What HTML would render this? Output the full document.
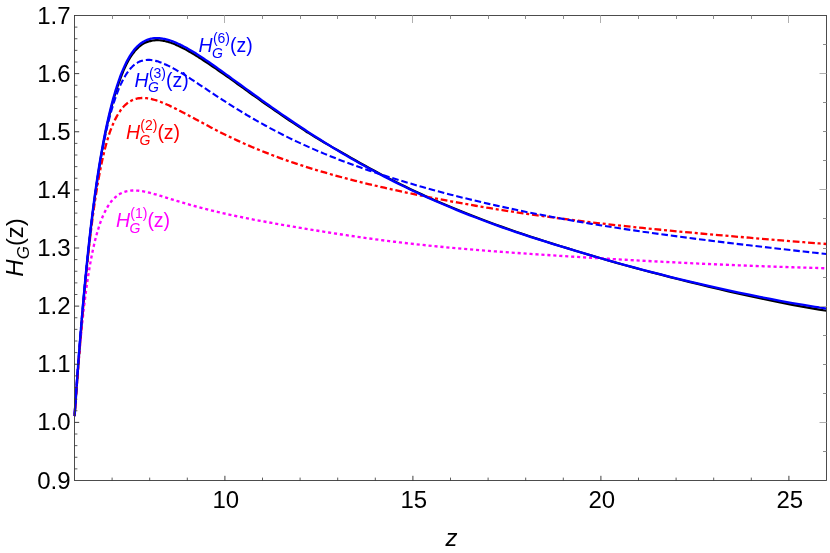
<!DOCTYPE html>
<html><head><meta charset="utf-8">
<style>
html,body{margin:0;padding:0;background:#fff;}
svg{display:block;will-change:transform;}
text{font-family:"Liberation Sans",sans-serif;}
.tl{font-size:24.0px;fill:#000;}
.cl{font-size:19.5px;}
.cs{font-size:14.0px;}
.M{stroke:#2a2a2a;stroke-width:0.9;}
.m{stroke:#333;stroke-width:0.8;}
.TM{stroke:#b0b0b0;stroke-width:1;}
.tm{stroke:#8c8c8c;stroke-width:1;}
.c{fill:none;stroke-linejoin:round;}
</style></head><body>
<svg width="830" height="553" viewBox="0 0 830 553">
<rect width="830" height="553" fill="#fff"/>
<clipPath id="cp"><rect x="70.5" y="15.5" width="756.0" height="465.0"/></clipPath>
<g clip-path="url(#cp)">
<path class="c" d="M74.70 416.10C74.78 415.00 75.00 411.70 75.15 409.50C75.31 407.29 75.46 405.08 75.61 402.87C75.77 400.65 75.92 398.44 76.08 396.21C76.24 393.99 76.39 391.77 76.55 389.54C76.71 387.31 76.87 385.08 77.03 382.84C77.19 380.61 77.36 378.37 77.52 376.13C77.68 373.90 77.85 371.66 78.01 369.42C78.18 367.18 78.35 364.94 78.52 362.70C78.68 360.46 78.85 358.21 79.03 355.97C79.20 353.73 79.37 351.49 79.54 349.25C79.72 347.01 79.89 344.78 80.07 342.54C80.24 340.31 80.42 338.07 80.60 335.84C80.78 333.61 80.96 331.38 81.14 329.15C81.32 326.93 81.51 324.70 81.69 322.49C81.87 320.27 82.06 318.05 82.25 315.84C82.43 313.63 82.62 311.43 82.81 309.23C83.00 307.03 83.19 304.83 83.39 302.64C83.58 300.45 83.77 298.27 83.97 296.09C84.16 293.91 84.36 291.74 84.56 289.58C84.76 287.42 84.96 285.26 85.16 283.12C85.36 280.97 85.56 278.83 85.77 276.70C85.97 274.57 86.18 272.44 86.39 270.33C86.59 268.22 86.80 266.11 87.01 264.02C87.22 261.93 87.44 259.84 87.65 257.77C87.86 255.70 88.08 253.63 88.30 251.58C88.51 249.53 88.73 247.49 88.95 245.46C89.17 243.43 89.40 241.41 89.62 239.41C89.84 237.40 90.07 235.40 90.30 233.42C90.52 231.44 90.75 229.46 90.98 227.50C91.21 225.54 91.44 223.59 91.68 221.65C91.91 219.72 92.15 217.79 92.38 215.88C92.62 213.96 92.86 212.06 93.10 210.17C93.34 208.28 93.59 206.40 93.83 204.54C94.07 202.67 94.32 200.82 94.57 198.98C94.82 197.13 95.07 195.31 95.32 193.49C95.57 191.67 95.82 189.87 96.08 188.08C96.34 186.29 96.59 184.51 96.85 182.74C97.11 180.98 97.37 179.22 97.64 177.48C97.90 175.74 98.17 174.02 98.43 172.30C98.70 170.59 98.97 168.89 99.24 167.20C99.51 165.51 99.79 163.84 100.06 162.18C100.34 160.52 100.61 158.87 100.89 157.23C101.17 155.60 101.45 153.98 101.74 152.37C102.02 150.77 102.31 149.17 102.60 147.60C102.88 146.02 103.17 144.45 103.47 142.90C103.76 141.35 104.05 139.81 104.35 138.29C104.65 136.77 104.94 135.25 105.25 133.76C105.55 132.27 105.87 130.80 106.18 129.35C106.49 127.89 106.81 126.45 107.13 125.02C107.45 123.60 107.77 122.18 108.09 120.79C108.42 119.39 108.74 118.01 109.07 116.64C109.40 115.27 109.73 113.92 110.06 112.59C110.40 111.25 110.73 109.93 111.07 108.62C111.41 107.32 111.75 106.03 112.09 104.76C112.44 103.49 112.78 102.23 113.13 100.99C113.48 99.75 113.83 98.53 114.18 97.32C114.54 96.11 114.89 94.92 115.25 93.75C115.61 92.58 115.97 91.42 116.34 90.28C116.70 89.14 117.07 88.02 117.44 86.92C117.81 85.81 118.19 84.72 118.56 83.66C118.93 82.59 119.29 81.55 119.66 80.52C120.02 79.50 120.39 78.49 120.77 77.50C121.14 76.52 121.52 75.55 121.89 74.60C122.27 73.65 122.65 72.71 123.04 71.80C123.42 70.89 123.81 69.99 124.20 69.12C124.59 68.24 124.98 67.39 125.38 66.55C125.77 65.72 126.17 64.90 126.58 64.10C126.98 63.31 127.38 62.53 127.79 61.77C128.20 61.02 128.61 60.28 129.02 59.56C129.44 58.85 129.85 58.15 130.27 57.48C130.69 56.80 131.12 56.15 131.54 55.51C131.97 54.88 132.40 54.27 132.83 53.68C133.27 53.09 133.70 52.52 134.14 51.97C134.58 51.42 135.03 50.89 135.47 50.39C135.91 49.88 136.35 49.40 136.79 48.93C137.23 48.47 137.68 48.03 138.13 47.60C138.58 47.18 139.03 46.78 139.49 46.40C139.95 46.02 140.41 45.65 140.87 45.31C141.33 44.97 141.80 44.65 142.27 44.34C142.74 44.04 143.21 43.75 143.69 43.49C144.17 43.22 144.65 42.98 145.13 42.75C145.62 42.52 146.11 42.31 146.60 42.12C147.09 41.92 147.58 41.75 148.08 41.59C148.58 41.44 149.08 41.31 149.59 41.18C150.10 41.05 150.62 40.92 151.15 40.81C151.67 40.70 152.20 40.60 152.74 40.51C153.27 40.43 153.81 40.36 154.35 40.31C154.89 40.26 155.44 40.22 155.99 40.20C156.54 40.18 157.09 40.18 157.65 40.19C158.21 40.20 158.77 40.23 159.34 40.27C159.91 40.31 160.48 40.36 161.05 40.43C161.63 40.50 162.21 40.58 162.79 40.68C163.37 40.78 163.96 40.89 164.56 41.02C165.15 41.14 165.75 41.28 166.35 41.43C166.95 41.58 167.55 41.75 168.17 41.92C168.78 42.10 169.39 42.29 170.01 42.49C170.63 42.70 171.25 42.91 171.88 43.14C172.51 43.37 173.15 43.60 173.78 43.85C174.42 44.11 175.07 44.37 175.71 44.64C176.36 44.91 177.02 45.20 177.67 45.50C178.33 45.79 178.99 46.10 179.66 46.42C180.33 46.73 181.00 47.06 181.68 47.40C182.36 47.74 183.04 48.09 183.73 48.45C184.41 48.81 185.11 49.18 185.81 49.57C186.50 49.95 187.21 50.34 187.91 50.74C188.62 51.14 189.34 51.55 190.06 51.97C190.78 52.39 191.50 52.82 192.23 53.26C192.96 53.70 193.70 54.15 194.44 54.61C195.18 55.07 195.92 55.53 196.68 56.01C197.43 56.48 198.18 56.97 198.95 57.46C199.71 57.95 200.48 58.45 201.26 58.95C202.04 59.45 202.82 59.95 203.61 60.46C204.40 60.97 205.20 61.49 206.00 62.02C206.80 62.55 207.60 63.08 208.42 63.63C209.23 64.17 210.05 64.72 210.88 65.28C211.70 65.84 212.53 66.40 213.37 66.98C214.21 67.55 215.05 68.13 215.90 68.71C216.75 69.30 217.61 69.89 218.47 70.49C219.34 71.09 220.21 71.70 221.08 72.31C221.96 72.92 222.84 73.54 223.73 74.16C224.62 74.78 225.52 75.41 226.42 76.05C227.32 76.68 228.23 77.32 229.15 77.97C230.06 78.62 230.98 79.28 231.91 79.95C232.84 80.62 233.78 81.29 234.72 81.97C235.67 82.65 236.62 83.34 237.58 84.03C238.54 84.72 239.50 85.41 240.47 86.11C241.44 86.81 242.42 87.52 243.41 88.23C244.40 88.94 245.39 89.65 246.39 90.37C247.40 91.09 248.40 91.81 249.42 92.54C250.44 93.27 251.46 94.00 252.49 94.74C253.53 95.48 254.56 96.22 255.61 96.97C256.66 97.71 257.71 98.46 258.78 99.22C259.84 99.97 260.91 100.73 261.99 101.49C263.07 102.25 264.16 103.02 265.25 103.79C266.35 104.56 267.45 105.33 268.56 106.11C269.67 106.89 270.79 107.67 271.92 108.46C273.05 109.24 274.19 110.03 275.33 110.82C276.48 111.61 277.63 112.41 278.79 113.21C279.95 114.01 281.12 114.81 282.30 115.61C283.48 116.42 284.67 117.23 285.87 118.04C287.07 118.85 288.27 119.66 289.49 120.48C290.70 121.30 291.93 122.12 293.16 122.94C294.40 123.76 295.64 124.59 296.89 125.42C298.14 126.24 299.40 127.07 300.67 127.91C301.95 128.74 303.23 129.57 304.52 130.41C305.81 131.25 307.10 132.10 308.41 132.93C309.72 133.76 311.04 134.58 312.37 135.39C313.70 136.21 315.04 137.01 316.39 137.82C317.74 138.63 319.09 139.44 320.46 140.25C321.83 141.06 323.21 141.87 324.60 142.69C325.99 143.50 327.39 144.32 328.80 145.14C330.21 145.95 331.63 146.77 333.06 147.59C334.49 148.41 335.94 149.23 337.39 150.05C338.84 150.87 340.30 151.68 341.78 152.51C343.25 153.34 344.74 154.16 346.24 155.02C347.73 155.88 349.24 156.77 350.76 157.65C352.28 158.53 353.81 159.41 355.35 160.29C356.89 161.17 358.45 162.05 360.01 162.93C361.58 163.81 363.15 164.69 364.74 165.57C366.33 166.44 367.93 167.32 369.54 168.20C371.16 169.08 372.78 169.96 374.42 170.84C376.05 171.72 377.70 172.60 379.36 173.48C381.02 174.35 382.70 175.23 384.38 176.11C386.07 176.98 387.77 177.86 389.48 178.73C391.19 179.61 392.91 180.48 394.65 181.35C396.39 182.23 398.14 183.10 399.90 183.97C401.66 184.84 403.44 185.71 405.23 186.58C407.02 187.44 408.82 188.31 410.64 189.17C412.45 190.04 414.28 190.90 416.12 191.76C417.97 192.62 419.82 193.48 421.70 194.34C423.57 195.20 425.45 196.05 427.35 196.91C429.25 197.76 431.16 198.61 433.09 199.46C435.02 200.31 436.96 201.16 438.92 202.01C440.87 202.85 442.84 203.70 444.83 204.54C446.81 205.38 448.81 206.22 450.83 207.06C452.85 207.90 454.88 208.74 456.92 209.57C458.97 210.41 461.03 211.24 463.10 212.07C465.18 212.91 467.27 213.74 469.38 214.57C471.49 215.40 473.61 216.22 475.75 217.05C477.89 217.88 480.04 218.70 482.21 219.53C484.38 220.35 486.57 221.17 488.78 221.99C490.98 222.81 493.20 223.63 495.44 224.45C497.67 225.27 499.93 226.08 502.20 226.89C504.47 227.70 506.75 228.50 509.06 229.30C511.36 230.10 513.68 230.90 516.02 231.70C518.36 232.50 520.72 233.30 523.09 234.10C525.46 234.89 527.85 235.69 530.26 236.49C532.67 237.28 535.10 238.07 537.55 238.87C539.99 239.66 542.46 240.45 544.94 241.24C547.42 242.04 549.92 242.83 552.44 243.62C554.96 244.41 557.50 245.19 560.05 245.98C562.61 246.77 565.19 247.55 567.78 248.35C570.38 249.14 572.99 249.96 575.63 250.77C578.26 251.58 580.91 252.39 583.59 253.20C586.26 254.01 588.96 254.81 591.67 255.61C594.38 256.42 597.12 257.22 599.87 258.02C602.63 258.83 605.40 259.63 608.20 260.43C610.99 261.23 613.81 262.03 616.65 262.83C619.49 263.63 622.34 264.43 625.22 265.22C628.10 266.02 631.01 266.81 633.93 267.60C636.85 268.39 639.80 269.18 642.77 269.97C645.73 270.76 648.72 271.54 651.73 272.33C654.75 273.11 657.78 273.88 660.84 274.67C663.89 275.47 666.97 276.28 670.08 277.08C673.18 277.88 676.30 278.68 679.45 279.47C682.60 280.27 685.77 281.06 688.97 281.84C692.17 282.63 695.39 283.40 698.63 284.19C701.88 284.98 705.14 285.80 708.44 286.59C711.73 287.39 715.05 288.19 718.39 288.98C721.73 289.77 725.10 290.56 728.49 291.34C731.88 292.12 735.30 292.90 738.74 293.68C742.19 294.45 745.66 295.22 749.15 295.98C752.65 296.74 756.17 297.50 759.71 298.25C763.26 299.00 766.83 299.75 770.44 300.49C774.04 301.23 777.66 301.97 781.32 302.69C784.97 303.41 788.65 304.14 792.36 304.83C796.07 305.53 799.81 306.19 803.57 306.86C807.34 307.53 811.13 308.19 814.95 308.84C818.77 309.50 824.58 310.46 826.50 310.78" stroke="#000" stroke-width="2.2"/>
<path class="c" d="M74.50 416.10C74.58 414.99 74.80 411.67 74.95 409.47C75.10 407.27 75.25 405.08 75.41 402.90C75.56 400.73 75.72 398.56 75.87 396.41C76.03 394.26 76.19 392.12 76.34 389.99C76.50 387.87 76.66 385.75 76.82 383.65C76.98 381.55 77.15 379.46 77.31 377.39C77.47 375.32 77.64 373.26 77.80 371.21C77.97 369.16 78.13 367.13 78.30 365.11C78.47 363.10 78.64 361.09 78.81 359.10C78.98 357.12 79.15 355.14 79.33 353.18C79.50 351.22 79.67 349.28 79.85 347.35C80.02 345.43 80.20 343.51 80.38 341.62C80.56 339.72 80.74 337.84 80.92 335.98C81.10 334.12 81.28 332.27 81.47 330.44C81.65 328.61 81.83 326.80 82.02 325.00C82.21 323.21 82.39 321.43 82.58 319.67C82.77 317.91 82.96 316.16 83.16 314.44C83.35 312.71 83.54 311.01 83.74 309.32C83.93 307.63 84.13 305.96 84.33 304.31C84.52 302.66 84.72 301.03 84.92 299.42C85.12 297.81 85.33 296.22 85.53 294.64C85.74 293.07 85.94 291.52 86.15 289.98C86.35 288.45 86.56 286.94 86.77 285.45C86.98 283.96 87.19 282.49 87.41 281.04C87.62 279.59 87.84 278.16 88.05 276.75C88.27 275.34 88.49 273.96 88.71 272.59C88.93 271.22 89.15 269.88 89.37 268.55C89.59 267.23 89.82 265.93 90.04 264.64C90.27 263.36 90.50 262.09 90.73 260.85C90.96 259.61 91.19 258.38 91.42 257.18C91.65 255.98 91.89 254.79 92.13 253.63C92.36 252.46 92.60 251.32 92.84 250.19C93.08 249.07 93.32 247.96 93.57 246.87C93.81 245.79 94.06 244.72 94.30 243.67C94.55 242.62 94.80 241.59 95.05 240.58C95.30 239.56 95.55 238.57 95.81 237.59C96.06 236.62 96.32 235.66 96.58 234.72C96.84 233.78 97.10 232.86 97.36 231.96C97.62 231.05 97.89 230.16 98.16 229.30C98.42 228.43 98.69 227.58 98.96 226.74C99.23 225.91 99.50 225.09 99.78 224.29C100.05 223.49 100.33 222.71 100.61 221.94C100.89 221.17 101.17 220.43 101.45 219.69C101.73 218.96 102.02 218.24 102.30 217.54C102.59 216.84 102.88 216.16 103.17 215.49C103.46 214.82 103.76 214.17 104.05 213.53C104.35 212.89 104.65 212.27 104.95 211.66C105.25 211.06 105.55 210.47 105.85 209.89C106.16 209.32 106.47 208.76 106.77 208.21C107.08 207.67 107.40 207.14 107.71 206.62C108.02 206.10 108.34 205.60 108.66 205.12C108.98 204.63 109.30 204.16 109.62 203.70C109.94 203.24 110.27 202.79 110.60 202.36C110.93 201.93 111.26 201.51 111.59 201.11C111.92 200.70 112.26 200.31 112.60 199.94C112.93 199.56 113.28 199.19 113.62 198.84C113.96 198.49 114.31 198.15 114.66 197.82C115.00 197.50 115.35 197.18 115.71 196.88C116.06 196.58 116.42 196.29 116.78 196.01C117.14 195.73 117.50 195.47 117.86 195.21C118.23 194.96 118.59 194.72 118.96 194.48C119.33 194.25 119.70 194.03 120.08 193.82C120.45 193.61 120.83 193.41 121.21 193.23C121.59 193.04 121.98 192.86 122.36 192.69C122.75 192.53 123.14 192.37 123.53 192.22C123.93 192.08 124.32 191.94 124.72 191.82C125.12 191.69 125.52 191.57 125.92 191.47C126.33 191.36 126.73 191.26 127.14 191.17C127.55 191.08 127.97 191.00 128.38 190.93C128.80 190.86 129.22 190.80 129.64 190.75C130.06 190.69 130.49 190.65 130.92 190.61C131.35 190.58 131.78 190.55 132.22 190.53C132.65 190.51 133.09 190.50 133.53 190.49C133.97 190.49 134.42 190.49 134.87 190.50C135.32 190.51 135.77 190.53 136.22 190.55C136.68 190.58 137.14 190.61 137.60 190.65C138.06 190.69 138.53 190.73 139.00 190.79C139.46 190.84 139.94 190.90 140.41 190.96C140.89 191.03 141.37 191.10 141.85 191.17C142.34 191.25 142.82 191.33 143.31 191.42C143.80 191.51 144.30 191.60 144.79 191.70C145.29 191.80 145.79 191.91 146.30 192.02C146.80 192.13 147.31 192.24 147.83 192.36C148.34 192.48 148.86 192.61 149.38 192.73C149.90 192.86 150.42 193.00 150.95 193.13C151.48 193.27 152.01 193.41 152.55 193.56C153.08 193.70 153.62 193.85 154.17 194.01C154.71 194.16 155.26 194.32 155.81 194.47C156.36 194.63 156.92 194.80 157.48 194.96C158.04 195.13 158.61 195.30 159.18 195.47C159.74 195.64 160.32 195.82 160.90 195.99C161.47 196.17 162.06 196.35 162.64 196.53C163.23 196.71 163.82 196.90 164.41 197.08C165.01 197.27 165.61 197.46 166.21 197.64C166.82 197.83 167.42 198.02 168.04 198.22C168.65 198.41 169.27 198.60 169.89 198.79C170.51 198.99 171.14 199.18 171.77 199.38C172.40 199.57 173.04 199.77 173.68 199.97C174.32 200.16 174.97 200.36 175.62 200.56C176.27 200.76 176.92 200.95 177.58 201.15C178.24 201.35 178.91 201.55 179.58 201.75C180.25 201.95 180.92 202.15 181.60 202.35C182.29 202.55 182.97 202.75 183.66 202.95C184.35 203.16 185.05 203.36 185.75 203.56C186.45 203.76 187.16 203.96 187.87 204.17C188.58 204.37 189.29 204.57 190.02 204.77C190.74 204.98 191.47 205.18 192.20 205.38C192.93 205.59 193.67 205.79 194.41 206.00C195.16 206.20 195.91 206.40 196.66 206.61C197.42 206.81 198.18 207.02 198.94 207.22C199.71 207.43 200.48 207.63 201.26 207.84C202.04 208.04 202.82 208.24 203.61 208.45C204.40 208.65 205.20 208.86 206.00 209.06C206.80 209.27 207.60 209.47 208.42 209.68C209.23 209.88 210.05 210.09 210.88 210.29C211.70 210.50 212.53 210.70 213.37 210.90C214.21 211.11 215.05 211.31 215.90 211.52C216.75 211.72 217.61 211.93 218.47 212.13C219.34 212.33 220.21 212.54 221.08 212.74C221.96 212.94 222.84 213.14 223.73 213.35C224.62 213.55 225.52 213.75 226.42 213.95C227.32 214.16 228.23 214.36 229.15 214.56C230.06 214.76 230.98 214.96 231.91 215.16C232.84 215.36 233.78 215.56 234.72 215.76C235.67 215.96 236.62 216.16 237.58 216.36C238.54 216.56 239.50 216.76 240.47 216.96C241.44 217.16 242.42 217.36 243.41 217.56C244.40 217.76 245.39 217.96 246.39 218.16C247.40 218.36 248.40 218.56 249.42 218.76C250.44 218.95 251.46 219.15 252.49 219.35C253.53 219.55 254.56 219.75 255.61 219.95C256.66 220.15 257.71 220.35 258.78 220.55C259.84 220.75 260.91 220.95 261.99 221.15C263.07 221.35 264.16 221.55 265.25 221.75C266.35 221.95 267.45 222.16 268.56 222.36C269.67 222.56 270.79 222.76 271.92 222.96C273.05 223.16 274.19 223.37 275.33 223.57C276.48 223.77 277.63 223.98 278.79 224.18C279.95 224.39 281.12 224.59 282.30 224.80C283.48 225.00 284.67 225.21 285.87 225.41C287.07 225.62 288.27 225.83 289.49 226.03C290.70 226.24 291.93 226.45 293.16 226.66C294.40 226.87 295.64 227.08 296.89 227.29C298.14 227.50 299.40 227.71 300.67 227.92C301.95 228.13 303.23 228.35 304.52 228.56C305.81 228.78 307.10 228.99 308.41 229.21C309.72 229.42 311.04 229.64 312.37 229.86C313.70 230.07 315.04 230.29 316.39 230.51C317.74 230.73 319.09 230.95 320.46 231.17C321.83 231.39 323.21 231.61 324.60 231.83C325.99 232.05 327.39 232.28 328.80 232.50C330.21 232.72 331.63 232.94 333.06 233.17C334.49 233.39 335.94 233.61 337.39 233.84C338.84 234.06 340.30 234.28 341.78 234.51C343.25 234.73 344.74 234.95 346.24 235.18C347.73 235.40 349.24 235.63 350.76 235.85C352.28 236.07 353.81 236.30 355.35 236.52C356.89 236.74 358.45 236.97 360.01 237.19C361.58 237.41 363.15 237.63 364.74 237.85C366.33 238.08 367.93 238.30 369.54 238.52C371.16 238.74 372.78 238.96 374.42 239.18C376.05 239.40 377.70 239.62 379.36 239.84C381.02 240.05 382.70 240.27 384.38 240.49C386.07 240.70 387.77 240.92 389.48 241.13C391.19 241.35 392.91 241.56 394.65 241.77C396.39 241.99 398.14 242.20 399.90 242.41C401.66 242.62 403.44 242.83 405.23 243.03C407.02 243.24 408.82 243.45 410.64 243.65C412.45 243.86 414.28 244.06 416.12 244.26C417.97 244.46 419.82 244.66 421.70 244.86C423.57 245.06 425.45 245.26 427.35 245.45C429.25 245.65 431.16 245.84 433.09 246.04C435.02 246.23 436.96 246.42 438.92 246.61C440.87 246.80 442.84 246.98 444.83 247.17C446.81 247.36 448.81 247.54 450.83 247.73C452.85 247.91 454.88 248.09 456.92 248.27C458.97 248.45 461.03 248.63 463.10 248.81C465.18 248.99 467.27 249.17 469.38 249.34C471.49 249.52 473.61 249.70 475.75 249.87C477.89 250.05 480.04 250.22 482.21 250.39C484.38 250.56 486.57 250.74 488.78 250.91C490.98 251.08 493.20 251.25 495.44 251.42C497.67 251.59 499.93 251.75 502.20 251.92C504.47 252.09 506.75 252.26 509.06 252.42C511.36 252.59 513.68 252.76 516.02 252.92C518.36 253.09 520.72 253.25 523.09 253.42C525.46 253.58 527.85 253.74 530.26 253.91C532.67 254.07 535.10 254.23 537.55 254.40C539.99 254.56 542.46 254.72 544.94 254.89C547.42 255.05 549.92 255.21 552.44 255.37C554.96 255.54 557.50 255.70 560.05 255.86C562.61 256.02 565.19 256.18 567.78 256.35C570.38 256.51 572.99 256.67 575.63 256.83C578.26 256.99 580.91 257.16 583.59 257.32C586.26 257.48 588.96 257.64 591.67 257.81C594.38 257.97 597.12 258.13 599.87 258.30C602.63 258.46 605.40 258.62 608.20 258.79C610.99 258.95 613.81 259.11 616.65 259.28C619.49 259.44 622.34 259.60 625.22 259.77C628.10 259.93 631.01 260.09 633.93 260.25C636.85 260.42 639.80 260.58 642.77 260.74C645.73 260.90 648.72 261.06 651.73 261.22C654.75 261.38 657.78 261.54 660.84 261.70C663.89 261.86 666.97 262.02 670.08 262.17C673.18 262.33 676.30 262.49 679.45 262.64C682.60 262.80 685.77 262.95 688.97 263.11C692.17 263.26 695.39 263.41 698.63 263.56C701.88 263.71 705.14 263.86 708.44 264.01C711.73 264.16 715.05 264.31 718.39 264.45C721.73 264.60 725.10 264.74 728.49 264.88C731.88 265.03 735.30 265.17 738.74 265.31C742.19 265.45 745.66 265.58 749.15 265.72C752.65 265.86 756.17 265.99 759.71 266.12C763.26 266.25 766.83 266.38 770.44 266.51C774.04 266.64 777.66 266.77 781.32 266.89C784.97 267.01 788.65 267.13 792.36 267.25C796.07 267.37 799.81 267.49 803.57 267.60C807.34 267.72 811.13 267.83 814.95 267.94C818.77 268.05 824.58 268.21 826.50 268.26" stroke="#ff00ff" stroke-width="2.35" stroke-dasharray="3.1 2.86" stroke-dashoffset="2.4"/>
<path class="c" d="M74.50 416.10C74.58 415.11 74.80 412.16 74.95 410.17C75.10 408.17 75.25 406.16 75.41 404.13C75.56 402.10 75.72 400.06 75.87 398.00C76.03 395.95 76.19 393.87 76.34 391.79C76.50 389.71 76.66 387.61 76.82 385.50C76.98 383.39 77.15 381.27 77.31 379.15C77.47 377.02 77.64 374.88 77.80 372.73C77.97 370.58 78.13 368.42 78.30 366.26C78.47 364.10 78.64 361.93 78.81 359.75C78.98 357.57 79.15 355.39 79.33 353.20C79.50 351.01 79.67 348.82 79.85 346.63C80.02 344.43 80.20 342.23 80.38 340.03C80.56 337.83 80.74 335.63 80.92 333.43C81.10 331.22 81.28 329.02 81.47 326.82C81.65 324.62 81.83 322.41 82.02 320.22C82.21 318.02 82.39 315.82 82.58 313.63C82.77 311.43 82.96 309.24 83.16 307.06C83.35 304.87 83.54 302.69 83.74 300.52C83.93 298.34 84.13 296.18 84.33 294.02C84.52 291.86 84.72 289.70 84.92 287.56C85.12 285.42 85.33 283.28 85.53 281.16C85.74 279.03 85.94 276.92 86.15 274.82C86.35 272.72 86.56 270.63 86.77 268.55C86.98 266.47 87.19 264.41 87.41 262.36C87.62 260.31 87.84 258.27 88.05 256.25C88.27 254.23 88.49 252.23 88.71 250.24C88.93 248.25 89.15 246.27 89.37 244.32C89.59 242.36 89.82 240.42 90.04 238.49C90.27 236.56 90.50 234.65 90.73 232.76C90.96 230.87 91.19 228.99 91.42 227.13C91.65 225.27 91.89 223.43 92.13 221.60C92.36 219.78 92.60 217.97 92.84 216.18C93.08 214.39 93.32 212.61 93.57 210.86C93.81 209.11 94.06 207.37 94.30 205.65C94.55 203.93 94.80 202.23 95.05 200.55C95.30 198.87 95.55 197.21 95.81 195.57C96.06 193.92 96.32 192.30 96.58 190.70C96.84 189.09 97.10 187.51 97.36 185.94C97.62 184.38 97.89 182.83 98.16 181.31C98.42 179.79 98.69 178.28 98.96 176.80C99.23 175.32 99.50 173.85 99.78 172.41C100.05 170.97 100.33 169.55 100.61 168.15C100.89 166.75 101.17 165.37 101.45 164.02C101.73 162.66 102.02 161.33 102.30 160.02C102.59 158.70 102.88 157.41 103.17 156.15C103.46 154.88 103.76 153.63 104.05 152.41C104.35 151.19 104.65 149.99 104.95 148.82C105.25 147.64 105.55 146.49 105.85 145.36C106.16 144.23 106.47 143.13 106.77 142.05C107.08 140.96 107.40 139.91 107.71 138.87C108.02 137.84 108.34 136.83 108.66 135.84C108.98 134.85 109.30 133.89 109.62 132.95C109.94 132.00 110.27 131.09 110.60 130.19C110.93 129.29 111.26 128.41 111.59 127.56C111.92 126.71 112.26 125.88 112.60 125.07C112.93 124.25 113.28 123.47 113.62 122.70C113.96 121.93 114.31 121.18 114.66 120.46C115.00 119.73 115.35 119.02 115.71 118.34C116.06 117.65 116.42 116.98 116.78 116.34C117.14 115.69 117.50 115.07 117.86 114.46C118.23 113.85 118.59 113.26 118.96 112.69C119.33 112.13 119.70 111.58 120.08 111.04C120.45 110.51 120.83 110.00 121.21 109.50C121.59 109.01 121.98 108.53 122.36 108.07C122.75 107.61 123.14 107.17 123.53 106.75C123.93 106.32 124.32 105.92 124.72 105.53C125.12 105.14 125.52 104.76 125.92 104.41C126.33 104.05 126.73 103.71 127.14 103.39C127.55 103.06 127.97 102.76 128.38 102.46C128.80 102.17 129.22 101.89 129.64 101.63C130.06 101.37 130.49 101.13 130.92 100.89C131.35 100.66 131.78 100.45 132.22 100.24C132.65 100.04 133.09 99.86 133.53 99.68C133.97 99.51 134.42 99.35 134.87 99.20C135.32 99.06 135.77 98.93 136.22 98.81C136.68 98.69 137.14 98.58 137.60 98.49C138.06 98.40 138.53 98.32 139.00 98.25C139.46 98.19 139.94 98.13 140.41 98.09C140.89 98.05 141.37 98.02 141.85 98.01C142.34 97.99 142.82 97.98 143.31 97.99C143.80 98.00 144.30 98.02 144.79 98.05C145.29 98.08 145.79 98.12 146.30 98.17C146.80 98.22 147.31 98.28 147.83 98.36C148.34 98.43 148.86 98.51 149.38 98.61C149.90 98.70 150.42 98.81 150.95 98.92C151.48 99.04 152.01 99.16 152.55 99.30C153.08 99.43 153.62 99.57 154.17 99.73C154.71 99.88 155.26 100.04 155.81 100.21C156.36 100.39 156.92 100.57 157.48 100.75C158.04 100.94 158.61 101.14 159.18 101.35C159.74 101.55 160.32 101.77 160.90 101.99C161.47 102.21 162.06 102.44 162.64 102.68C163.23 102.91 163.82 103.16 164.41 103.41C165.01 103.66 165.61 103.92 166.21 104.19C166.82 104.45 167.42 104.73 168.04 105.01C168.65 105.28 169.27 105.57 169.89 105.86C170.51 106.15 171.14 106.45 171.77 106.76C172.40 107.06 173.04 107.37 173.68 107.69C174.32 108.00 174.97 108.32 175.62 108.65C176.27 108.98 176.92 109.31 177.58 109.64C178.24 109.98 178.91 110.32 179.58 110.67C180.25 111.02 180.92 111.37 181.60 111.72C182.29 112.08 182.97 112.44 183.66 112.81C184.35 113.17 185.05 113.54 185.75 113.91C186.45 114.29 187.16 114.66 187.87 115.05C188.58 115.43 189.29 115.81 190.02 116.20C190.74 116.59 191.47 116.98 192.20 117.38C192.93 117.77 193.67 118.17 194.41 118.57C195.16 118.98 195.91 119.38 196.66 119.79C197.42 120.20 198.18 120.61 198.94 121.02C199.71 121.44 200.48 121.85 201.26 122.27C202.04 122.69 202.82 123.11 203.61 123.54C204.40 123.96 205.20 124.39 206.00 124.81C206.80 125.24 207.60 125.67 208.42 126.10C209.23 126.53 210.05 126.96 210.88 127.40C211.70 127.83 212.53 128.27 213.37 128.71C214.21 129.14 215.05 129.58 215.90 130.02C216.75 130.46 217.61 130.90 218.47 131.34C219.34 131.78 220.21 132.22 221.08 132.66C221.96 133.10 222.84 133.54 223.73 133.99C224.62 134.43 225.52 134.87 226.42 135.31C227.32 135.76 228.23 136.20 229.15 136.64C230.06 137.08 230.98 137.53 231.91 137.97C232.84 138.41 233.78 138.85 234.72 139.29C235.67 139.73 236.62 140.17 237.58 140.61C238.54 141.05 239.50 141.49 240.47 141.93C241.44 142.37 242.42 142.81 243.41 143.25C244.40 143.69 245.39 144.13 246.39 144.57C247.40 145.01 248.40 145.44 249.42 145.88C250.44 146.32 251.46 146.76 252.49 147.19C253.53 147.63 254.56 148.06 255.61 148.50C256.66 148.93 257.71 149.37 258.78 149.80C259.84 150.24 260.91 150.67 261.99 151.10C263.07 151.54 264.16 151.97 265.25 152.40C266.35 152.83 267.45 153.26 268.56 153.69C269.67 154.12 270.79 154.55 271.92 154.98C273.05 155.41 274.19 155.84 275.33 156.27C276.48 156.69 277.63 157.12 278.79 157.55C279.95 157.97 281.12 158.40 282.30 158.82C283.48 159.25 284.67 159.67 285.87 160.09C287.07 160.51 288.27 160.94 289.49 161.36C290.70 161.78 291.93 162.20 293.16 162.62C294.40 163.04 295.64 163.45 296.89 163.87C298.14 164.29 299.40 164.70 300.67 165.12C301.95 165.53 303.23 165.95 304.52 166.36C305.81 166.77 307.10 167.18 308.41 167.59C309.72 168.00 311.04 168.41 312.37 168.82C313.70 169.23 315.04 169.64 316.39 170.04C317.74 170.45 319.09 170.86 320.46 171.26C321.83 171.67 323.21 172.07 324.60 172.47C325.99 172.87 327.39 173.27 328.80 173.68C330.21 174.08 331.63 174.48 333.06 174.87C334.49 175.27 335.94 175.67 337.39 176.07C338.84 176.46 340.30 176.86 341.78 177.25C343.25 177.65 344.74 178.04 346.24 178.44C347.73 178.83 349.24 179.22 350.76 179.62C352.28 180.01 353.81 180.40 355.35 180.79C356.89 181.18 358.45 181.57 360.01 181.96C361.58 182.35 363.15 182.73 364.74 183.12C366.33 183.51 367.93 183.90 369.54 184.28C371.16 184.67 372.78 185.05 374.42 185.44C376.05 185.82 377.70 186.21 379.36 186.59C381.02 186.98 382.70 187.36 384.38 187.74C386.07 188.12 387.77 188.51 389.48 188.89C391.19 189.27 392.91 189.65 394.65 190.03C396.39 190.41 398.14 190.79 399.90 191.17C401.66 191.55 403.44 191.93 405.23 192.31C407.02 192.69 408.82 193.07 410.64 193.44C412.45 193.82 414.28 194.20 416.12 194.58C417.97 194.95 419.82 195.33 421.70 195.71C423.57 196.08 425.45 196.46 427.35 196.84C429.25 197.21 431.16 197.59 433.09 197.96C435.02 198.34 436.96 198.71 438.92 199.09C440.87 199.46 442.84 199.83 444.83 200.21C446.81 200.58 448.81 200.95 450.83 201.32C452.85 201.70 454.88 202.07 456.92 202.44C458.97 202.81 461.03 203.18 463.10 203.55C465.18 203.92 467.27 204.29 469.38 204.65C471.49 205.02 473.61 205.39 475.75 205.75C477.89 206.12 480.04 206.48 482.21 206.85C484.38 207.21 486.57 207.58 488.78 207.94C490.98 208.30 493.20 208.66 495.44 209.02C497.67 209.38 499.93 209.74 502.20 210.10C504.47 210.45 506.75 210.81 509.06 211.17C511.36 211.52 513.68 211.88 516.02 212.23C518.36 212.58 520.72 212.93 523.09 213.28C525.46 213.63 527.85 213.98 530.26 214.33C532.67 214.68 535.10 215.02 537.55 215.37C539.99 215.71 542.46 216.06 544.94 216.40C547.42 216.74 549.92 217.08 552.44 217.42C554.96 217.76 557.50 218.09 560.05 218.43C562.61 218.76 565.19 219.10 567.78 219.43C570.38 219.76 572.99 220.09 575.63 220.42C578.26 220.74 580.91 221.07 583.59 221.40C586.26 221.72 588.96 222.04 591.67 222.36C594.38 222.68 597.12 223.00 599.87 223.32C602.63 223.64 605.40 223.95 608.20 224.26C610.99 224.58 613.81 224.89 616.65 225.20C619.49 225.51 622.34 225.82 625.22 226.13C628.10 226.43 631.01 226.74 633.93 227.05C636.85 227.35 639.80 227.65 642.77 227.96C645.73 228.26 648.72 228.56 651.73 228.86C654.75 229.16 657.78 229.46 660.84 229.76C663.89 230.06 666.97 230.36 670.08 230.66C673.18 230.95 676.30 231.25 679.45 231.55C682.60 231.84 685.77 232.14 688.97 232.43C692.17 232.73 695.39 233.02 698.63 233.32C701.88 233.61 705.14 233.90 708.44 234.20C711.73 234.49 715.05 234.78 718.39 235.08C721.73 235.37 725.10 235.67 728.49 235.96C731.88 236.25 735.30 236.55 738.74 236.84C742.19 237.13 745.66 237.43 749.15 237.72C752.65 238.02 756.17 238.31 759.71 238.61C763.26 238.90 766.83 239.20 770.44 239.49C774.04 239.79 777.66 240.09 781.32 240.39C784.97 240.68 788.65 240.98 792.36 241.28C796.07 241.58 799.81 241.88 803.57 242.18C807.34 242.48 811.13 242.78 814.95 243.09C818.77 243.39 824.58 243.85 826.50 244.00" stroke="#ff0000" stroke-width="2.3" stroke-dasharray="3.0 2.8 6.8 2.82" stroke-dashoffset="-0.6"/>
<path class="c" d="M74.50 416.10C74.58 414.94 74.80 411.47 74.95 409.17C75.10 406.86 75.25 404.56 75.41 402.26C75.56 399.96 75.72 397.67 75.87 395.38C76.03 393.09 76.19 390.81 76.34 388.53C76.50 386.25 76.66 383.98 76.82 381.71C76.98 379.44 77.15 377.17 77.31 374.91C77.47 372.65 77.64 370.40 77.80 368.15C77.97 365.90 78.13 363.66 78.30 361.42C78.47 359.18 78.64 356.95 78.81 354.72C78.98 352.49 79.15 350.27 79.33 348.06C79.50 345.84 79.67 343.63 79.85 341.43C80.02 339.22 80.20 337.02 80.38 334.83C80.56 332.64 80.74 330.45 80.92 328.27C81.10 326.09 81.28 323.92 81.47 321.75C81.65 319.59 81.83 317.42 82.02 315.27C82.21 313.12 82.39 310.97 82.58 308.83C82.77 306.69 82.96 304.55 83.16 302.43C83.35 300.30 83.54 298.18 83.74 296.06C83.93 293.95 84.13 291.84 84.33 289.75C84.52 287.65 84.72 285.56 84.92 283.47C85.12 281.39 85.33 279.31 85.53 277.24C85.74 275.17 85.94 273.11 86.15 271.06C86.35 269.00 86.56 266.96 86.77 264.92C86.98 262.88 87.19 260.85 87.41 258.83C87.62 256.80 87.84 254.79 88.05 252.78C88.27 250.78 88.49 248.78 88.71 246.79C88.93 244.80 89.15 242.82 89.37 240.85C89.59 238.88 89.82 236.92 90.04 234.97C90.27 233.02 90.50 231.07 90.73 229.14C90.96 227.21 91.19 225.29 91.42 223.38C91.65 221.47 91.89 219.57 92.13 217.68C92.36 215.79 92.60 213.91 92.84 212.04C93.08 210.18 93.32 208.32 93.57 206.48C93.81 204.63 94.06 202.80 94.30 200.98C94.55 199.16 94.80 197.35 95.05 195.56C95.30 193.77 95.55 191.98 95.81 190.22C96.06 188.45 96.32 186.69 96.58 184.95C96.84 183.21 97.10 181.48 97.36 179.77C97.62 178.05 97.89 176.35 98.16 174.67C98.42 172.98 98.69 171.31 98.96 169.65C99.23 168.00 99.50 166.35 99.78 164.73C100.05 163.10 100.33 161.49 100.61 159.90C100.89 158.30 101.17 156.72 101.45 155.16C101.73 153.60 102.02 152.05 102.30 150.52C102.59 148.99 102.88 147.48 103.17 145.98C103.46 144.49 103.76 143.01 104.05 141.54C104.35 140.08 104.65 138.64 104.95 137.21C105.25 135.79 105.55 134.38 105.85 132.99C106.16 131.60 106.47 130.23 106.77 128.87C107.08 127.52 107.40 126.19 107.71 124.87C108.02 123.56 108.34 122.26 108.66 120.98C108.98 119.70 109.30 118.45 109.62 117.21C109.94 115.97 110.27 114.75 110.60 113.55C110.93 112.34 111.26 111.16 111.59 110.00C111.92 108.84 112.26 107.69 112.60 106.57C112.93 105.45 113.28 104.34 113.62 103.26C113.96 102.17 114.31 101.11 114.66 100.06C115.00 99.01 115.35 97.99 115.71 96.98C116.06 95.98 116.42 94.99 116.78 94.02C117.14 93.06 117.50 92.11 117.86 91.18C118.23 90.26 118.59 89.35 118.96 88.46C119.33 87.58 119.70 86.71 120.08 85.87C120.45 85.02 120.83 84.19 121.21 83.39C121.59 82.58 121.98 81.80 122.36 81.03C122.75 80.27 123.14 79.53 123.53 78.80C123.93 78.08 124.32 77.38 124.72 76.70C125.12 76.01 125.52 75.35 125.92 74.71C126.33 74.07 126.73 73.45 127.14 72.86C127.55 72.26 127.97 71.68 128.38 71.13C128.80 70.57 129.22 70.03 129.64 69.52C130.06 69.01 130.49 68.52 130.92 68.04C131.35 67.57 131.78 67.12 132.22 66.70C132.65 66.27 133.09 65.86 133.53 65.48C133.97 65.09 134.42 64.73 134.87 64.39C135.32 64.04 135.77 63.72 136.22 63.42C136.68 63.12 137.14 62.84 137.60 62.58C138.06 62.32 138.53 62.08 139.00 61.86C139.46 61.64 139.94 61.44 140.41 61.25C140.89 61.07 141.37 60.91 141.85 60.76C142.34 60.62 142.82 60.49 143.31 60.38C143.80 60.27 144.30 60.18 144.79 60.11C145.29 60.03 145.79 59.98 146.30 59.94C146.80 59.90 147.31 59.87 147.83 59.86C148.34 59.86 148.86 59.87 149.38 59.89C149.90 59.91 150.42 59.95 150.95 60.01C151.48 60.06 152.01 60.13 152.55 60.22C153.08 60.30 153.62 60.40 154.17 60.51C154.71 60.63 155.26 60.75 155.81 60.89C156.36 61.03 156.92 61.19 157.48 61.35C158.04 61.52 158.61 61.70 159.18 61.89C159.74 62.08 160.32 62.29 160.90 62.50C161.47 62.72 162.06 62.94 162.64 63.18C163.23 63.42 163.82 63.67 164.41 63.93C165.01 64.19 165.61 64.46 166.21 64.74C166.82 65.02 167.42 65.31 168.04 65.62C168.65 65.92 169.27 66.23 169.89 66.55C170.51 66.86 171.14 67.19 171.77 67.53C172.40 67.87 173.04 68.21 173.68 68.56C174.32 68.92 174.97 69.28 175.62 69.65C176.27 70.02 176.92 70.39 177.58 70.78C178.24 71.16 178.91 71.55 179.58 71.95C180.25 72.35 180.92 72.76 181.60 73.17C182.29 73.58 182.97 74.00 183.66 74.43C184.35 74.86 185.05 75.29 185.75 75.73C186.45 76.17 187.16 76.62 187.87 77.07C188.58 77.52 189.29 77.98 190.02 78.45C190.74 78.91 191.47 79.38 192.20 79.86C192.93 80.33 193.67 80.82 194.41 81.30C195.16 81.79 195.91 82.28 196.66 82.78C197.42 83.28 198.18 83.78 198.94 84.29C199.71 84.79 200.48 85.31 201.26 85.82C202.04 86.34 202.82 86.86 203.61 87.38C204.40 87.91 205.20 88.44 206.00 88.97C206.80 89.50 207.60 90.04 208.42 90.58C209.23 91.12 210.05 91.67 210.88 92.22C211.70 92.76 212.53 93.32 213.37 93.87C214.21 94.42 215.05 94.98 215.90 95.54C216.75 96.10 217.61 96.66 218.47 97.23C219.34 97.80 220.21 98.36 221.08 98.93C221.96 99.51 222.84 100.08 223.73 100.65C224.62 101.23 225.52 101.80 226.42 102.38C227.32 102.96 228.23 103.54 229.15 104.12C230.06 104.70 230.98 105.29 231.91 105.87C232.84 106.46 233.78 107.04 234.72 107.63C235.67 108.22 236.62 108.81 237.58 109.40C238.54 109.98 239.50 110.58 240.47 111.17C241.44 111.76 242.42 112.35 243.41 112.94C244.40 113.54 245.39 114.13 246.39 114.73C247.40 115.32 248.40 115.92 249.42 116.52C250.44 117.11 251.46 117.71 252.49 118.31C253.53 118.91 254.56 119.50 255.61 120.10C256.66 120.70 257.71 121.30 258.78 121.90C259.84 122.50 260.91 123.10 261.99 123.70C263.07 124.30 264.16 124.90 265.25 125.50C266.35 126.10 267.45 126.70 268.56 127.30C269.67 127.90 270.79 128.50 271.92 129.10C273.05 129.70 274.19 130.30 275.33 130.90C276.48 131.50 277.63 132.10 278.79 132.69C279.95 133.29 281.12 133.89 282.30 134.49C283.48 135.09 284.67 135.68 285.87 136.28C287.07 136.88 288.27 137.47 289.49 138.07C290.70 138.66 291.93 139.25 293.16 139.85C294.40 140.44 295.64 141.03 296.89 141.62C298.14 142.21 299.40 142.80 300.67 143.39C301.95 143.98 303.23 144.57 304.52 145.16C305.81 145.74 307.10 146.33 308.41 146.91C309.72 147.49 311.04 148.08 312.37 148.66C313.70 149.24 315.04 149.82 316.39 150.39C317.74 150.97 319.09 151.55 320.46 152.12C321.83 152.70 323.21 153.27 324.60 153.85C325.99 154.42 327.39 154.99 328.80 155.56C330.21 156.13 331.63 156.70 333.06 157.27C334.49 157.83 335.94 158.40 337.39 158.96C338.84 159.53 340.30 160.09 341.78 160.66C343.25 161.22 344.74 161.78 346.24 162.34C347.73 162.90 349.24 163.46 350.76 164.01C352.28 164.57 353.81 165.13 355.35 165.68C356.89 166.24 358.45 166.79 360.01 167.35C361.58 167.90 363.15 168.45 364.74 169.00C366.33 169.55 367.93 170.10 369.54 170.65C371.16 171.20 372.78 171.75 374.42 172.29C376.05 172.84 377.70 173.38 379.36 173.93C381.02 174.47 382.70 175.01 384.38 175.56C386.07 176.10 387.77 176.64 389.48 177.18C391.19 177.72 392.91 178.26 394.65 178.80C396.39 179.33 398.14 179.87 399.90 180.41C401.66 180.94 403.44 181.48 405.23 182.01C407.02 182.55 408.82 183.08 410.64 183.61C412.45 184.15 414.28 184.68 416.12 185.21C417.97 185.74 419.82 186.27 421.70 186.80C423.57 187.33 425.45 187.85 427.35 188.38C429.25 188.91 431.16 189.43 433.09 189.96C435.02 190.48 436.96 191.01 438.92 191.53C440.87 192.06 442.84 192.58 444.83 193.10C446.81 193.62 448.81 194.14 450.83 194.66C452.85 195.18 454.88 195.69 456.92 196.21C458.97 196.73 461.03 197.24 463.10 197.76C465.18 198.27 467.27 198.78 469.38 199.30C471.49 199.81 473.61 200.32 475.75 200.82C477.89 201.33 480.04 201.84 482.21 202.35C484.38 202.85 486.57 203.36 488.78 203.86C490.98 204.36 493.20 204.86 495.44 205.36C497.67 205.86 499.93 206.36 502.20 206.85C504.47 207.35 506.75 207.85 509.06 208.34C511.36 208.83 513.68 209.32 516.02 209.81C518.36 210.30 520.72 210.79 523.09 211.27C525.46 211.76 527.85 212.24 530.26 212.72C532.67 213.20 535.10 213.68 537.55 214.16C539.99 214.64 542.46 215.11 544.94 215.59C547.42 216.06 549.92 216.53 552.44 217.00C554.96 217.47 557.50 217.94 560.05 218.40C562.61 218.87 565.19 219.33 567.78 219.79C570.38 220.25 572.99 220.71 575.63 221.17C578.26 221.62 580.91 222.08 583.59 222.53C586.26 222.98 588.96 223.43 591.67 223.87C594.38 224.32 597.12 224.76 599.87 225.20C602.63 225.65 605.40 226.09 608.20 226.52C610.99 226.96 613.81 227.39 616.65 227.83C619.49 228.26 622.34 228.69 625.22 229.12C628.10 229.55 631.01 229.98 633.93 230.41C636.85 230.83 639.80 231.26 642.77 231.68C645.73 232.10 648.72 232.52 651.73 232.94C654.75 233.37 657.78 233.78 660.84 234.20C663.89 234.62 666.97 235.04 670.08 235.45C673.18 235.87 676.30 236.28 679.45 236.70C682.60 237.11 685.77 237.52 688.97 237.94C692.17 238.35 695.39 238.76 698.63 239.17C701.88 239.58 705.14 239.99 708.44 240.40C711.73 240.81 715.05 241.22 718.39 241.63C721.73 242.04 725.10 242.45 728.49 242.86C731.88 243.27 735.30 243.68 738.74 244.09C742.19 244.50 745.66 244.91 749.15 245.32C752.65 245.73 756.17 246.14 759.71 246.55C763.26 246.96 766.83 247.37 770.44 247.78C774.04 248.19 777.66 248.61 781.32 249.02C784.97 249.43 788.65 249.85 792.36 250.26C796.07 250.67 799.81 251.09 803.57 251.51C807.34 251.92 811.13 252.34 814.95 252.76C818.77 253.18 824.58 253.81 826.50 254.02" stroke="#0000ff" stroke-width="2.1" stroke-dasharray="6.6 2.89" stroke-dashoffset="-2.5"/>
<path class="c" d="M74.50 416.10C74.58 415.00 74.80 411.70 74.95 409.50C75.10 407.29 75.25 405.08 75.41 402.87C75.56 400.65 75.72 398.44 75.87 396.21C76.03 393.99 76.19 391.77 76.34 389.54C76.50 387.31 76.66 385.08 76.82 382.84C76.98 380.61 77.15 378.37 77.31 376.13C77.47 373.90 77.64 371.66 77.80 369.42C77.97 367.18 78.13 364.94 78.30 362.70C78.47 360.46 78.64 358.21 78.81 355.97C78.98 353.73 79.15 351.49 79.33 349.25C79.50 347.01 79.67 344.78 79.85 342.54C80.02 340.31 80.20 338.07 80.38 335.84C80.56 333.61 80.74 331.38 80.92 329.15C81.10 326.93 81.28 324.70 81.47 322.49C81.65 320.27 81.83 318.05 82.02 315.84C82.21 313.63 82.39 311.43 82.58 309.23C82.77 307.03 82.96 304.83 83.16 302.64C83.35 300.45 83.54 298.27 83.74 296.09C83.93 293.91 84.13 291.74 84.33 289.58C84.52 287.42 84.72 285.26 84.92 283.12C85.12 280.97 85.33 278.83 85.53 276.70C85.74 274.57 85.94 272.44 86.15 270.33C86.35 268.22 86.56 266.11 86.77 264.02C86.98 261.93 87.19 259.84 87.41 257.77C87.62 255.70 87.84 253.63 88.05 251.58C88.27 249.53 88.49 247.49 88.71 245.46C88.93 243.43 89.15 241.41 89.37 239.41C89.59 237.40 89.82 235.40 90.04 233.42C90.27 231.44 90.50 229.46 90.73 227.50C90.96 225.54 91.19 223.59 91.42 221.65C91.65 219.72 91.89 217.79 92.13 215.88C92.36 213.96 92.60 212.06 92.84 210.17C93.08 208.28 93.32 206.40 93.57 204.54C93.81 202.67 94.06 200.82 94.30 198.98C94.55 197.13 94.80 195.31 95.05 193.49C95.30 191.67 95.55 189.87 95.81 188.08C96.06 186.29 96.32 184.51 96.58 182.74C96.84 180.98 97.10 179.22 97.36 177.48C97.62 175.74 97.89 174.02 98.16 172.30C98.42 170.59 98.69 168.89 98.96 167.20C99.23 165.51 99.50 163.84 99.78 162.18C100.05 160.52 100.33 158.87 100.61 157.23C100.89 155.60 101.17 153.98 101.45 152.37C101.73 150.77 102.02 149.17 102.30 147.60C102.59 146.02 102.88 144.45 103.17 142.90C103.46 141.35 103.76 139.81 104.05 138.29C104.35 136.77 104.65 135.26 104.95 133.76C105.25 132.27 105.55 130.79 105.85 129.32C106.16 127.86 106.47 126.41 106.77 124.97C107.08 123.53 107.40 122.11 107.71 120.70C108.02 119.30 108.34 117.90 108.66 116.53C108.98 115.15 109.30 113.79 109.62 112.44C109.94 111.10 110.27 109.77 110.60 108.45C110.93 107.14 111.26 105.84 111.59 104.56C111.92 103.27 112.26 102.01 112.60 100.76C112.93 99.51 113.28 98.27 113.62 97.05C113.96 95.84 114.31 94.64 114.66 93.45C115.00 92.27 115.35 91.10 115.71 89.95C116.06 88.80 116.42 87.67 116.78 86.55C117.14 85.44 117.50 84.34 117.86 83.26C118.23 82.18 118.59 81.12 118.96 80.07C119.33 79.03 119.70 78.00 120.08 76.99C120.45 75.99 120.83 75.00 121.21 74.03C121.59 73.06 121.98 72.10 122.36 71.17C122.75 70.24 123.14 69.32 123.53 68.42C123.93 67.53 124.32 66.65 124.72 65.80C125.12 64.94 125.52 64.10 125.92 63.28C126.33 62.46 126.73 61.67 127.14 60.89C127.55 60.11 127.97 59.35 128.38 58.61C128.80 57.87 129.22 57.16 129.64 56.46C130.06 55.76 130.49 55.08 130.92 54.43C131.35 53.77 131.78 53.14 132.22 52.52C132.65 51.91 133.09 51.32 133.53 50.74C133.97 50.17 134.42 49.62 134.87 49.09C135.32 48.56 135.77 48.06 136.22 47.57C136.68 47.08 137.14 46.61 137.60 46.17C138.06 45.72 138.53 45.29 139.00 44.88C139.46 44.48 139.94 44.09 140.41 43.72C140.89 43.35 141.37 43.01 141.85 42.68C142.34 42.35 142.82 42.04 143.31 41.74C143.80 41.45 144.30 41.18 144.79 40.92C145.29 40.67 145.79 40.43 146.30 40.21C146.80 40.00 147.31 39.79 147.83 39.61C148.34 39.43 148.86 39.26 149.38 39.11C149.90 38.96 150.42 38.83 150.95 38.72C151.48 38.60 152.01 38.50 152.55 38.42C153.08 38.34 153.62 38.27 154.17 38.22C154.71 38.17 155.26 38.13 155.81 38.12C156.36 38.10 156.92 38.09 157.48 38.11C158.04 38.12 158.61 38.14 159.18 38.18C159.74 38.23 160.32 38.28 160.90 38.35C161.47 38.42 162.06 38.51 162.64 38.61C163.23 38.71 163.82 38.82 164.41 38.94C165.01 39.07 165.61 39.21 166.21 39.36C166.82 39.52 167.42 39.68 168.04 39.86C168.65 40.04 169.27 40.23 169.89 40.43C170.51 40.64 171.14 40.85 171.77 41.08C172.40 41.31 173.04 41.55 173.68 41.80C174.32 42.05 174.97 42.32 175.62 42.59C176.27 42.87 176.92 43.15 177.58 43.45C178.24 43.75 178.91 44.06 179.58 44.38C180.25 44.69 180.92 45.03 181.60 45.37C182.29 45.71 182.97 46.06 183.66 46.42C184.35 46.78 185.05 47.15 185.75 47.54C186.45 47.92 187.16 48.31 187.87 48.71C188.58 49.12 189.29 49.53 190.02 49.95C190.74 50.37 191.47 50.81 192.20 51.25C192.93 51.69 193.67 52.14 194.41 52.60C195.16 53.06 195.91 53.52 196.66 54.00C197.42 54.48 198.18 54.97 198.94 55.46C199.71 55.96 200.48 56.46 201.26 56.97C202.04 57.48 202.82 58.00 203.61 58.53C204.40 59.06 205.20 59.60 206.00 60.14C206.80 60.68 207.60 61.24 208.42 61.80C209.23 62.36 210.05 62.92 210.88 63.50C211.70 64.07 212.53 64.65 213.37 65.24C214.21 65.83 215.05 66.43 215.90 67.03C216.75 67.63 217.61 68.24 218.47 68.86C219.34 69.48 220.21 70.10 221.08 70.73C221.96 71.36 222.84 71.99 223.73 72.63C224.62 73.28 225.52 73.92 226.42 74.58C227.32 75.23 228.23 75.89 229.15 76.55C230.06 77.22 230.98 77.89 231.91 78.57C232.84 79.24 233.78 79.92 234.72 80.61C235.67 81.30 236.62 81.99 237.58 82.68C238.54 83.38 239.50 84.08 240.47 84.79C241.44 85.50 242.42 86.21 243.41 86.93C244.40 87.64 245.39 88.37 246.39 89.09C247.40 89.82 248.40 90.55 249.42 91.29C250.44 92.02 251.46 92.76 252.49 93.51C253.53 94.25 254.56 95.00 255.61 95.76C256.66 96.51 257.71 97.27 258.78 98.03C259.84 98.79 260.91 99.56 261.99 100.33C263.07 101.10 264.16 101.88 265.25 102.65C266.35 103.43 267.45 104.22 268.56 105.00C269.67 105.79 270.79 106.58 271.92 107.37C273.05 108.16 274.19 108.96 275.33 109.76C276.48 110.56 277.63 111.37 278.79 112.17C279.95 112.98 281.12 113.79 282.30 114.61C283.48 115.42 284.67 116.24 285.87 117.06C287.07 117.88 288.27 118.70 289.49 119.53C290.70 120.35 291.93 121.18 293.16 122.01C294.40 122.85 295.64 123.68 296.89 124.52C298.14 125.35 299.40 126.19 300.67 127.04C301.95 127.88 303.23 128.72 304.52 129.57C305.81 130.42 307.10 131.27 308.41 132.12C309.72 132.97 311.04 133.82 312.37 134.68C313.70 135.54 315.04 136.39 316.39 137.25C317.74 138.11 319.09 138.97 320.46 139.84C321.83 140.70 323.21 141.57 324.60 142.43C325.99 143.30 327.39 144.17 328.80 145.04C330.21 145.90 331.63 146.78 333.06 147.65C334.49 148.52 335.94 149.39 337.39 150.27C338.84 151.14 340.30 152.01 341.78 152.89C343.25 153.77 344.74 154.64 346.24 155.52C347.73 156.40 349.24 157.27 350.76 158.15C352.28 159.03 353.81 159.91 355.35 160.79C356.89 161.67 358.45 162.55 360.01 163.43C361.58 164.31 363.15 165.19 364.74 166.07C366.33 166.94 367.93 167.82 369.54 168.70C371.16 169.58 372.78 170.46 374.42 171.34C376.05 172.22 377.70 173.10 379.36 173.98C381.02 174.85 382.70 175.73 384.38 176.61C386.07 177.48 387.77 178.36 389.48 179.23C391.19 180.11 392.91 180.98 394.65 181.85C396.39 182.73 398.14 183.60 399.90 184.47C401.66 185.34 403.44 186.21 405.23 187.08C407.02 187.94 408.82 188.81 410.64 189.67C412.45 190.54 414.28 191.40 416.12 192.26C417.97 193.12 419.82 193.98 421.70 194.84C423.57 195.70 425.45 196.55 427.35 197.41C429.25 198.26 431.16 199.11 433.09 199.96C435.02 200.81 436.96 201.66 438.92 202.51C440.87 203.35 442.84 204.20 444.83 205.04C446.81 205.88 448.81 206.72 450.83 207.56C452.85 208.40 454.88 209.24 456.92 210.07C458.97 210.91 461.03 211.74 463.10 212.57C465.18 213.41 467.27 214.24 469.38 215.07C471.49 215.90 473.61 216.72 475.75 217.55C477.89 218.38 480.04 219.20 482.21 220.03C484.38 220.85 486.57 221.67 488.78 222.49C490.98 223.31 493.20 224.14 495.44 224.95C497.67 225.77 499.93 226.58 502.20 227.38C504.47 228.18 506.75 228.96 509.06 229.74C511.36 230.53 513.68 231.32 516.02 232.10C518.36 232.89 520.72 233.67 523.09 234.45C525.46 235.23 527.85 236.02 530.26 236.80C532.67 237.58 535.10 238.35 537.55 239.13C539.99 239.91 542.46 240.69 544.94 241.46C547.42 242.24 549.92 243.01 552.44 243.79C554.96 244.56 557.50 245.34 560.05 246.11C562.61 246.88 565.19 247.64 567.78 248.42C570.38 249.20 572.99 250.00 575.63 250.80C578.26 251.59 580.91 252.39 583.59 253.19C586.26 253.99 588.96 254.79 591.67 255.59C594.38 256.38 597.12 257.18 599.87 257.98C602.63 258.77 605.40 259.57 608.20 260.36C610.99 261.15 613.81 261.95 616.65 262.74C619.49 263.53 622.34 264.32 625.22 265.11C628.10 265.90 631.01 266.68 633.93 267.47C636.85 268.25 639.80 269.04 642.77 269.81C645.73 270.59 648.72 271.37 651.73 272.15C654.75 272.92 657.78 273.69 660.84 274.46C663.89 275.23 666.97 276.00 670.08 276.76C673.18 277.52 676.30 278.28 679.45 279.04C682.60 279.80 685.77 280.55 688.97 281.30C692.17 282.04 695.39 282.78 698.63 283.53C701.88 284.28 705.14 285.05 708.44 285.81C711.73 286.57 715.05 287.33 718.39 288.08C721.73 288.83 725.10 289.58 728.49 290.32C731.88 291.06 735.30 291.80 738.74 292.53C742.19 293.26 745.66 293.99 749.15 294.71C752.65 295.43 756.17 296.14 759.71 296.85C763.26 297.56 766.83 298.26 770.44 298.96C774.04 299.66 777.66 300.35 781.32 301.03C784.97 301.71 788.65 302.39 792.36 303.04C796.07 303.69 799.81 304.31 803.57 304.94C807.34 305.56 811.13 306.17 814.95 306.78C818.77 307.39 824.58 308.28 826.50 308.58" stroke="#0000ff" stroke-width="2.3"/>
</g>
<rect x="74.5" y="15.5" width="752.0" height="465.0" fill="none" stroke="#3a3a3a" stroke-width="0.9"/>
<line class="m" x1="112.10" y1="480.50" x2="112.10" y2="477.60"/><line class="tm" x1="112.50" y1="15.50" x2="112.50" y2="19.00"/><line class="m" x1="149.70" y1="480.50" x2="149.70" y2="477.60"/><line class="tm" x1="149.50" y1="15.50" x2="149.50" y2="19.00"/><line class="m" x1="187.30" y1="480.50" x2="187.30" y2="477.60"/><line class="tm" x1="187.50" y1="15.50" x2="187.50" y2="19.00"/><line class="M" x1="224.90" y1="480.50" x2="224.90" y2="475.80"/><line class="TM" x1="224.50" y1="15.50" x2="224.50" y2="23.00"/><line class="m" x1="262.50" y1="480.50" x2="262.50" y2="477.60"/><line class="tm" x1="262.50" y1="15.50" x2="262.50" y2="19.00"/><line class="m" x1="300.10" y1="480.50" x2="300.10" y2="477.60"/><line class="tm" x1="300.50" y1="15.50" x2="300.50" y2="19.00"/><line class="m" x1="337.70" y1="480.50" x2="337.70" y2="477.60"/><line class="tm" x1="337.50" y1="15.50" x2="337.50" y2="19.00"/><line class="m" x1="375.30" y1="480.50" x2="375.30" y2="477.60"/><line class="tm" x1="375.50" y1="15.50" x2="375.50" y2="19.00"/><line class="M" x1="412.90" y1="480.50" x2="412.90" y2="475.80"/><line class="TM" x1="412.50" y1="15.50" x2="412.50" y2="23.00"/><line class="m" x1="450.50" y1="480.50" x2="450.50" y2="477.60"/><line class="tm" x1="450.50" y1="15.50" x2="450.50" y2="19.00"/><line class="m" x1="488.10" y1="480.50" x2="488.10" y2="477.60"/><line class="tm" x1="488.50" y1="15.50" x2="488.50" y2="19.00"/><line class="m" x1="525.70" y1="480.50" x2="525.70" y2="477.60"/><line class="tm" x1="525.50" y1="15.50" x2="525.50" y2="19.00"/><line class="m" x1="563.30" y1="480.50" x2="563.30" y2="477.60"/><line class="tm" x1="563.50" y1="15.50" x2="563.50" y2="19.00"/><line class="M" x1="600.90" y1="480.50" x2="600.90" y2="475.80"/><line class="TM" x1="600.50" y1="15.50" x2="600.50" y2="23.00"/><line class="m" x1="638.50" y1="480.50" x2="638.50" y2="477.60"/><line class="tm" x1="638.50" y1="15.50" x2="638.50" y2="19.00"/><line class="m" x1="676.10" y1="480.50" x2="676.10" y2="477.60"/><line class="tm" x1="676.50" y1="15.50" x2="676.50" y2="19.00"/><line class="m" x1="713.70" y1="480.50" x2="713.70" y2="477.60"/><line class="tm" x1="713.50" y1="15.50" x2="713.50" y2="19.00"/><line class="m" x1="751.30" y1="480.50" x2="751.30" y2="477.60"/><line class="tm" x1="751.50" y1="15.50" x2="751.50" y2="19.00"/><line class="M" x1="788.90" y1="480.50" x2="788.90" y2="475.80"/><line class="TM" x1="788.50" y1="15.50" x2="788.50" y2="23.00"/><line class="m" x1="74.50" y1="468.88" x2="77.40" y2="468.88"/><line class="m" x1="74.50" y1="457.25" x2="77.40" y2="457.25"/><line class="m" x1="74.50" y1="445.63" x2="77.40" y2="445.63"/><line class="m" x1="74.50" y1="434.00" x2="77.40" y2="434.00"/><line class="M" x1="74.50" y1="422.38" x2="79.20" y2="422.38"/><line class="m" x1="74.50" y1="410.75" x2="77.40" y2="410.75"/><line class="m" x1="74.50" y1="399.12" x2="77.40" y2="399.12"/><line class="m" x1="74.50" y1="387.50" x2="77.40" y2="387.50"/><line class="m" x1="74.50" y1="375.88" x2="77.40" y2="375.88"/><line class="M" x1="74.50" y1="364.25" x2="79.20" y2="364.25"/><line class="m" x1="74.50" y1="352.62" x2="77.40" y2="352.62"/><line class="m" x1="74.50" y1="341.00" x2="77.40" y2="341.00"/><line class="m" x1="74.50" y1="329.37" x2="77.40" y2="329.37"/><line class="m" x1="74.50" y1="317.75" x2="77.40" y2="317.75"/><line class="M" x1="74.50" y1="306.12" x2="79.20" y2="306.12"/><line class="m" x1="74.50" y1="294.50" x2="77.40" y2="294.50"/><line class="m" x1="74.50" y1="282.88" x2="77.40" y2="282.88"/><line class="m" x1="74.50" y1="271.25" x2="77.40" y2="271.25"/><line class="m" x1="74.50" y1="259.62" x2="77.40" y2="259.62"/><line class="M" x1="74.50" y1="248.00" x2="79.20" y2="248.00"/><line class="m" x1="74.50" y1="236.37" x2="77.40" y2="236.37"/><line class="m" x1="74.50" y1="224.75" x2="77.40" y2="224.75"/><line class="m" x1="74.50" y1="213.12" x2="77.40" y2="213.12"/><line class="m" x1="74.50" y1="201.50" x2="77.40" y2="201.50"/><line class="M" x1="74.50" y1="189.88" x2="79.20" y2="189.88"/><line class="m" x1="74.50" y1="178.25" x2="77.40" y2="178.25"/><line class="m" x1="74.50" y1="166.63" x2="77.40" y2="166.63"/><line class="m" x1="74.50" y1="155.00" x2="77.40" y2="155.00"/><line class="m" x1="74.50" y1="143.38" x2="77.40" y2="143.38"/><line class="M" x1="74.50" y1="131.75" x2="79.20" y2="131.75"/><line class="m" x1="74.50" y1="120.12" x2="77.40" y2="120.12"/><line class="m" x1="74.50" y1="108.50" x2="77.40" y2="108.50"/><line class="m" x1="74.50" y1="96.88" x2="77.40" y2="96.88"/><line class="m" x1="74.50" y1="85.25" x2="77.40" y2="85.25"/><line class="M" x1="74.50" y1="73.62" x2="79.20" y2="73.62"/><line class="m" x1="74.50" y1="62.00" x2="77.40" y2="62.00"/><line class="m" x1="74.50" y1="50.37" x2="77.40" y2="50.37"/><line class="m" x1="74.50" y1="38.75" x2="77.40" y2="38.75"/><line class="m" x1="74.50" y1="27.12" x2="77.40" y2="27.12"/><line class="tm" x1="826.50" y1="451.50" x2="823.00" y2="451.50"/><line class="TM" x1="826.50" y1="422.50" x2="819.50" y2="422.50"/><line class="tm" x1="826.50" y1="393.50" x2="823.00" y2="393.50"/><line class="tm" x1="826.50" y1="364.50" x2="823.00" y2="364.50"/><line class="tm" x1="826.50" y1="335.50" x2="823.00" y2="335.50"/><line class="TM" x1="826.50" y1="306.50" x2="819.50" y2="306.50"/><line class="tm" x1="826.50" y1="277.50" x2="823.00" y2="277.50"/><line class="tm" x1="826.50" y1="248.50" x2="823.00" y2="248.50"/><line class="tm" x1="826.50" y1="218.50" x2="823.00" y2="218.50"/><line class="TM" x1="826.50" y1="189.50" x2="819.50" y2="189.50"/><line class="tm" x1="826.50" y1="160.50" x2="823.00" y2="160.50"/><line class="tm" x1="826.50" y1="131.50" x2="823.00" y2="131.50"/><line class="tm" x1="826.50" y1="102.50" x2="823.00" y2="102.50"/><line class="TM" x1="826.50" y1="73.50" x2="819.50" y2="73.50"/><line class="tm" x1="826.50" y1="44.50" x2="823.00" y2="44.50"/>
<text class="tl" x="70.6" y="488.50" text-anchor="end">0.9</text><text class="tl" x="70.6" y="430.38" text-anchor="end">1.0</text><text class="tl" x="70.6" y="372.25" text-anchor="end">1.1</text><text class="tl" x="70.6" y="314.12" text-anchor="end">1.2</text><text class="tl" x="70.6" y="256.00" text-anchor="end">1.3</text><text class="tl" x="70.6" y="197.88" text-anchor="end">1.4</text><text class="tl" x="70.6" y="139.75" text-anchor="end">1.5</text><text class="tl" x="70.6" y="81.62" text-anchor="end">1.6</text><text class="tl" x="70.6" y="23.50" text-anchor="end">1.7</text>
<text class="tl" x="225.80" y="507.8" text-anchor="middle">10</text><text class="tl" x="413.80" y="507.8" text-anchor="middle">15</text><text class="tl" x="601.80" y="507.8" text-anchor="middle">20</text><text class="tl" x="789.80" y="507.8" text-anchor="middle">25</text>
<text x="445.5" y="545.9" font-size="24.0px" font-style="italic" fill="#000">z</text>
<g transform="translate(22.9,248.7) rotate(-90)"><text x="-28" y="0" font-size="24.0px" fill="#000"><tspan font-style="italic">H</tspan><tspan font-style="italic" font-size="17px" dy="6.2">G</tspan><tspan dy="-6.2">(z)</tspan></text></g>
<g fill="#0000ff"><text x="198.60" y="51.60" class="cl" font-style="italic">H</text><text x="212.11" y="57.50" class="cs" font-style="italic">G</text><text x="212.93" y="42.70" class="cs">(6)</text><text x="229.99" y="51.60" class="cl">(z)</text></g>
<g fill="#0000ff"><text x="134.60" y="86.50" class="cl" font-style="italic">H</text><text x="148.11" y="92.40" class="cs" font-style="italic">G</text><text x="148.93" y="77.60" class="cs">(3)</text><text x="165.99" y="86.50" class="cl">(z)</text></g>
<g fill="#ff0000"><text x="126.00" y="139.20" class="cl" font-style="italic">H</text><text x="139.51" y="145.10" class="cs" font-style="italic">G</text><text x="140.33" y="130.30" class="cs">(2)</text><text x="157.39" y="139.20" class="cl">(z)</text></g>
<g fill="#ff00ff"><text x="116.00" y="227.20" class="cl" font-style="italic">H</text><text x="129.51" y="233.10" class="cs" font-style="italic">G</text><text x="130.33" y="218.30" class="cs">(1)</text><text x="147.39" y="227.20" class="cl">(z)</text></g>
</svg>
</body></html>
